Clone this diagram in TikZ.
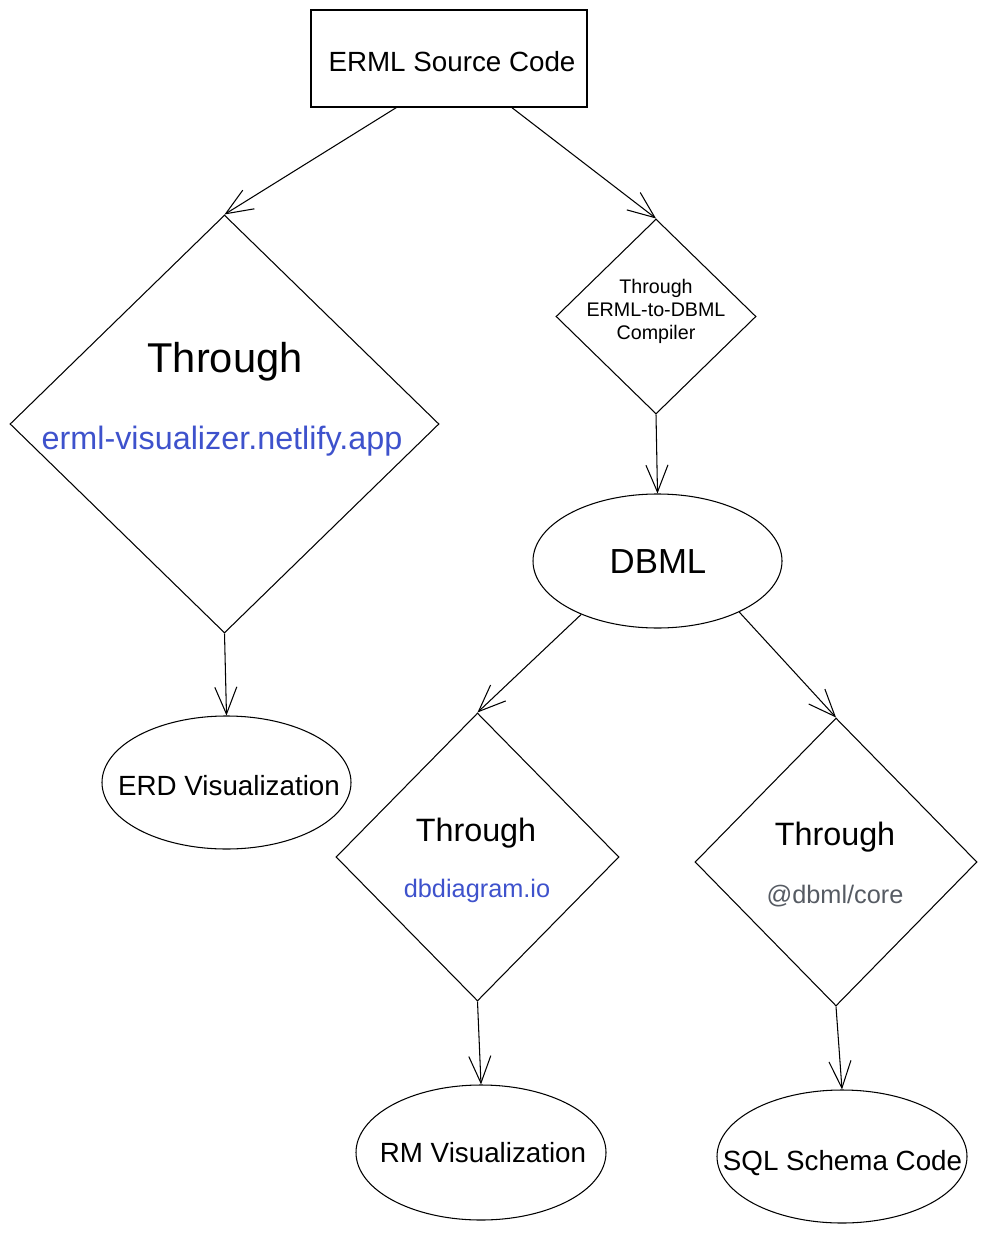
\documentclass[tikz,border=0pt]{standalone}
\usepackage{fontspec}
\setmainfont{Liberation Sans}
\usepackage{tikz}
\usetikzlibrary{shapes,arrows.meta,positioning}
\definecolor{linkblue}{RGB}{62,82,204}
\definecolor{pkggray}{RGB}{86,91,99}
\tikzstyle{layer} = [draw, line width=0.6pt, inner sep=0pt]
\tikzstyle{sourcebox} = [layer, rectangle, minimum width=5.52cm, minimum height=1.94cm]
\tikzstyle{decision} = [layer, diamond]
\tikzstyle{result} = [layer, ellipse, minimum width=4.98cm, minimum height=2.66cm]
\tikzstyle{label_big} = [font=\fontsize{23.7}{28}\selectfont]
\tikzstyle{label_mid} = [font=\fontsize{18.4}{22}\selectfont]
\tikzstyle{label_std} = [font=\fontsize{15.8}{19}\selectfont]

\begin{document}
\begin{tikzpicture}[%
    >={Straight Barb[length=5.4mm,width=4.4mm]},
    line width=0.6pt
  ]
      \useasboundingbox (0,0) rectangle (19.74,-24.66);

      %Source
      \node[sourcebox] (src) at (8.98,-1.17) {};
      \node[label_std] (srcT) at (9.04,-1.24) {ERML Source Code};

      %Left branch
      \node[decision, minimum width=8.58cm, minimum height=8.36cm] (vis) at (4.49,-8.48) {};
      \node[label_big] (visA) at (4.5,-7.23) {Through};
      \node[font=\fontsize{18.4}{22}\selectfont, text=linkblue] (visB) at (4.44,-8.82) {erml-visualizer.netlify.app};
      \node[result] (erd) at (4.53,-15.65) {};
      \node[label_std] (erdT) at (4.58,-15.72) {ERD Visualization};

      %Right branch
      \node[decision, minimum width=4.0cm, minimum height=3.9cm] (comp) at (13.12,-6.33) {};
      \node[align=center, font=\fontsize{11.2}{13}\selectfont] (compT) at (13.12,-6.23) {Through\\ERML-to-DBML\\Compiler};
      \node[result, minimum height=2.68cm] (dbml) at (13.15,-11.22) {};
      \node[font=\fontsize{19.8}{24}\selectfont] (dbmlT) at (13.16,-11.24) {DBML};

      %DBML consumers
      \node[decision, minimum width=5.66cm, minimum height=5.76cm] (dbd) at (9.55,-17.14) {};
      \node[label_mid] (dbdA) at (9.52,-16.66) {Through};
      \node[font=\fontsize{14.4}{17}\selectfont, text=linkblue] (dbdB) at (9.54,-17.82) {dbdiagram.io};
      \node[decision, minimum width=5.64cm, minimum height=5.76cm] (core) at (16.72,-17.24) {};
      \node[label_mid] (coreA) at (16.7,-16.74) {Through};
      \node[font=\fontsize{14.4}{17}\selectfont, text=pkggray] (coreB) at (16.7,-17.92) {@dbml/core};

      %Outputs
      \node[result, minimum width=5.0cm, minimum height=2.7cm] (rm) at (9.62,-23.05) {};
      \node[label_std] (rmT) at (9.66,-23.06) {RM Visualization};
      \node[result, minimum width=5.0cm] (sql) at (16.84,-23.13) {};
      \node[label_std] (sqlT) at (16.85,-23.26) {SQL Schema Code};

      %Connectors
      \draw [->] (src.223) -- (vis.north);
      \draw [->] (src.322) -- (comp.north);
      \draw [->] (vis.south) -- (erd.north);
      \draw [->] (comp.south) -- (dbml.north);
      \draw [->] (dbml.215) -- (dbd.north);
      \draw [->] (dbml.328) -- (core.north);
      \draw [->] (dbd.south) -- (rm.north);
      \draw [->] (core.south) -- (sql.north);
    \end{tikzpicture}
\end{document}
